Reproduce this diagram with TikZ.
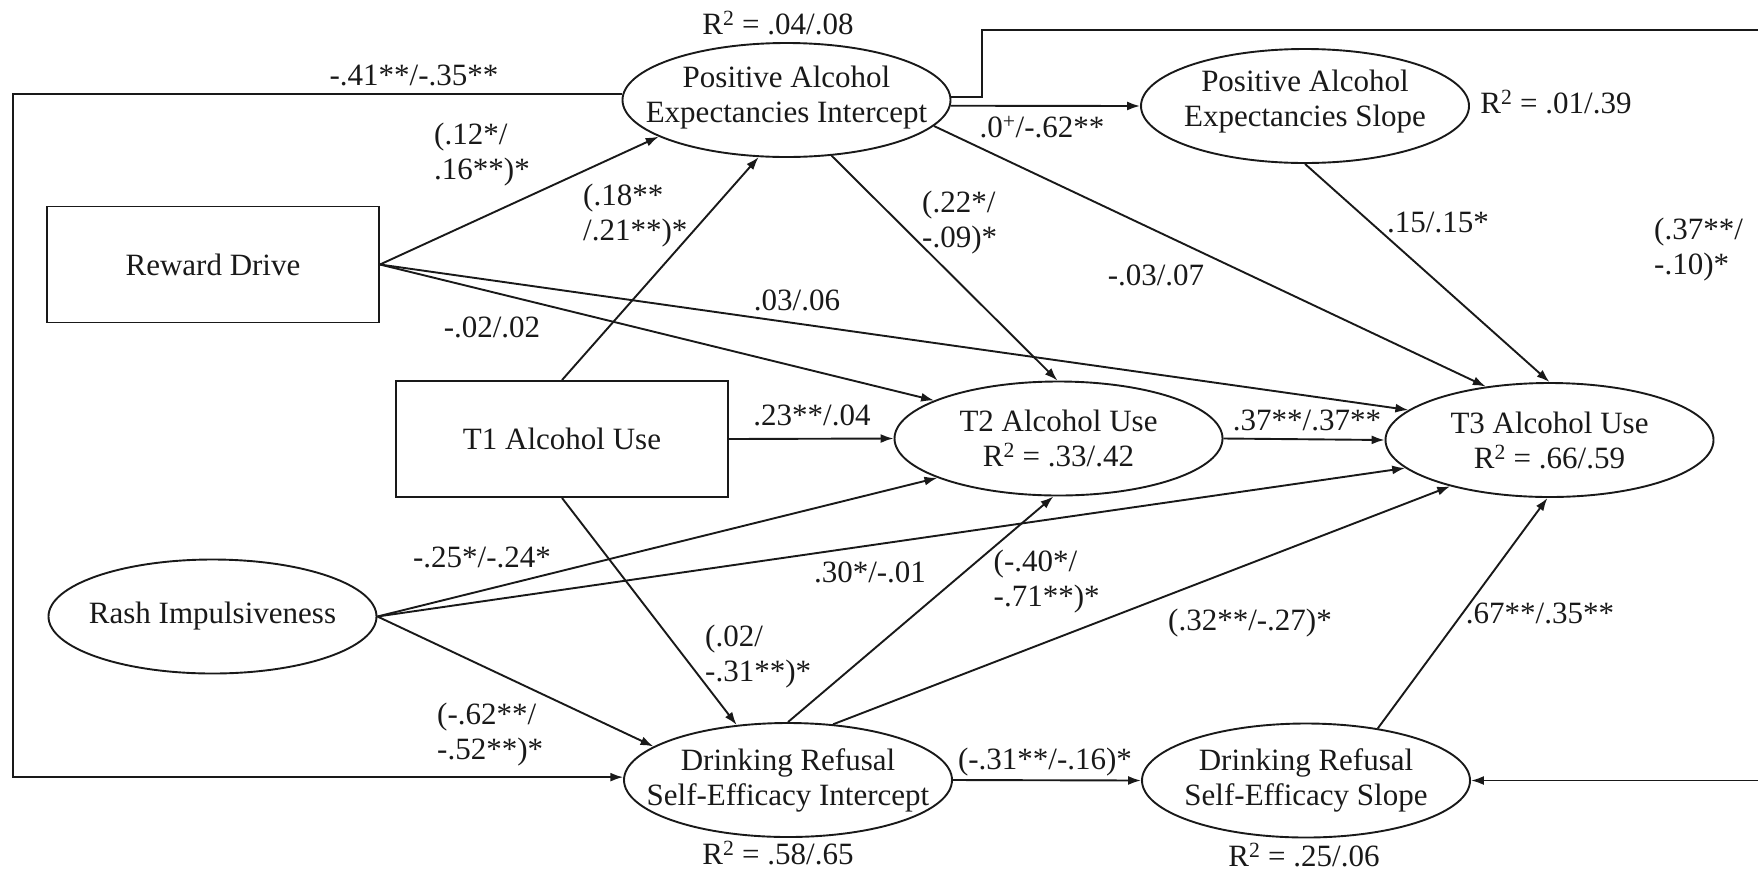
\documentclass[tikz,border=0pt]{standalone}
\usepackage{fontspec}
\setmainfont{Liberation Serif}
\usetikzlibrary{arrows.meta,shapes.geometric}

\begin{document}
\begin{tikzpicture}[x=1pt,y=-1pt,
  every node/.style={font=\fontsize{31}{35}\selectfont, text=black!90},
  conn/.style={line width=1.9pt, draw=black!90},
  arr/.style={conn, -{Latex[length=13pt,width=9pt]}},
  varbox/.style={draw=black!90, line width=1.9pt, rectangle,
    minimum width=332pt, minimum height=116pt, inner sep=0pt},
  latent/.style={draw=black!90, line width=1.9pt, ellipse,
    minimum width=328pt, minimum height=114pt, inner sep=0pt},
  coef/.style={inner sep=0pt},
  coefl/.style={inner sep=0pt, anchor=west, align=left},
  intext/.style={align=center, inner sep=0pt},
]
\useasboundingbox (0,0) rectangle (1758,871);
\clip (0,0) rectangle (1758,871);

% observed variables
\node[varbox] (rd) at (213,264.5) {Reward Drive};
\node[varbox] (t1) at (562,439) {T1 Alcohol Use};

% latent variables
\node[latent] (ri)  at (212.5,616.5) {};
\node[latent] (pai) at (786.5,100) {};
\node[latent] (pas) at (1305,106) {};
\node[latent] (t2)  at (1058.5,438.5) {};
\node[latent] (t3)  at (1549.5,440) {};
\node[latent] (dri) at (788,780) {};
\node[latent] (drs) at (1306,780.5) {};

\node[intext] (ritext)  at (ri) {Rash Impulsiveness};
\node[intext, yshift=2pt] (paitext) at (pai) {Positive Alcohol\\Expectancies Intercept};
\node[intext, yshift=4pt] (pastext) at (pas) {Positive Alcohol\\Expectancies Slope};
\node[intext] (t2text)  at (t2) {T2 Alcohol Use\\R\textsuperscript{2} = .33/.42};
\node[intext] (t3text)  at (t3) {T3 Alcohol Use\\R\textsuperscript{2} = .66/.59};
\node[intext] (dritext) at (dri) {Drinking Refusal\\Self-Efficacy Intercept};
\node[intext] (drstext) at (drs) {Drinking Refusal\\Self-Efficacy Slope};

% variance explained
\node[coef] (r2pai) at (778,23)   {R\textsuperscript{2} = .04/.08};
\node[coef] (r2pas) at (1556,102) {R\textsuperscript{2} = .01/.39};
\node[coef] (r2dri) at (778,853)  {R\textsuperscript{2} = .58/.65};
\node[coef] (r2drs) at (1304,855) {R\textsuperscript{2} = .25/.06};

% corner points of the two long feedback paths
\coordinate (fbl) at (12.6,0);
\coordinate (fbt) at (982,30);
\coordinate (fbr) at (1765,30);

% paths
\draw[arr] (pai.178) -- (pai.178 -| fbl) -- (dri.179 -| fbl) -- (dri.179);
\draw[arr] (pai.1) -| (fbt) -- (fbr) |- (drs.east);

\draw[arr] (rd.east) -- (pai.196);
\draw[arr] (rd.east) -- (t2.163);
\draw[arr] (rd.east) -- (t3.168);

\draw[arr] (t1.north) -- (pai.244);
\draw[arr] (t1.east) -- (t2.west);
\draw[arr] (t1.south) -- (dri.133);

\draw[arr] (ri.east) -- (t2.198);
\draw[arr] (ri.east) -- (t3.191);
\draw[arr] (ri.east) -- (dri.166);

\draw[arr] (pai.-2) -- (pas.west);
\draw[arr] (pai.309) -- (t2.91);
\draw[arr] (pai.350) -- (t3.140);
\draw[arr] (pas.south) -- (t3.north);

\draw[arr] (t2.east) -- (t3.west);

\draw[arr] (dri.north) -- (t2.265);
\draw[arr] (dri.51) -- (t3.205);
\draw[arr] (dri.east) -- (drs.west);
\draw[arr] (drs.36) -- (t3.268);

% path coefficients
\node[coef] (c1)  at (414,75)    {-.41**/-.35**};
\node[coef] (c2)  at (1042,127)  {.0\textsuperscript{+}/-.62**};
\node[coef] (c3)  at (1438,222)  {.15/.15*};
\node[coef] (c4)  at (1156,275)  {-.03/.07};
\node[coef] (c5)  at (797,300)   {.03/.06};
\node[coef] (c6)  at (492,327)   {-.02/.02};
\node[coef] (c7)  at (812,415)   {.23**/.04};
\node[coef] (c8)  at (1307,420)  {.37**/.37**};
\node[coef] (c9)  at (482,557)   {-.25*/-.24*};
\node[coef] (c10) at (870,572)   {.30*/-.01};
\node[coef] (c11) at (1250,623)  {(.32**/-.27)*};
\node[coef] (c12) at (1540,613)  {.67**/.35**};
\node[coef] (c13) at (1045,762)  {(-.31**/-.16)*};

\node[coefl] (d1) at (434,155)    {(.12*/\\.16**)*};
\node[coefl] (d2) at (583,216)    {(.18**\\/.21**)*};
\node[coefl] (d3) at (922,222.5)  {(.22*/\\-.09)*};
\node[coefl] (d4) at (1654,249.5) {(.37**/\\-.10)*};
\node[coefl] (d5) at (993.5,582)  {(-.40*/\\-.71**)*};
\node[coefl] (d6) at (705,656.5)  {(.02/\\-.31**)*};
\node[coefl] (d7) at (437,735)    {(-.62**/\\-.52**)*};
\end{tikzpicture}
\end{document}
